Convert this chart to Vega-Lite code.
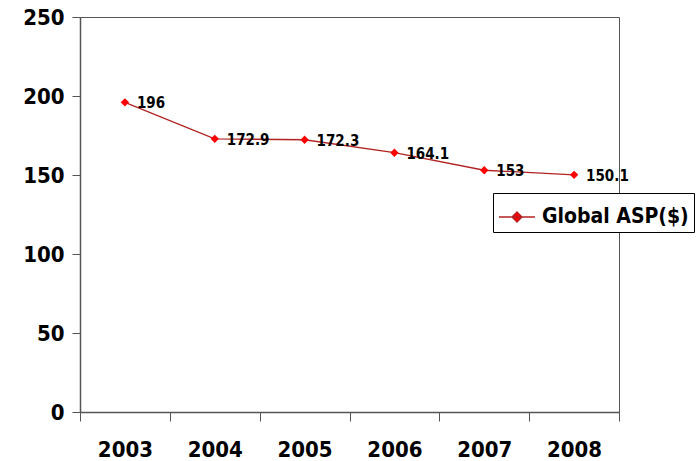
{
  "$schema": "https://vega.github.io/schema/vega-lite/v6.json",
  "width": 539,
  "height": 395,
  "autosize": {"type": "none"},
  "padding": {"left": 80, "top": 17, "right": 79, "bottom": 49},
  "background": "white",
  "config": {
    "view": {"stroke": "#555555", "strokeWidth": 1},
    "font": "DejaVu Sans Condensed",
    "axis": {"grid": false, "domainColor": "#555555", "tickColor": "#555555", "labelColor": "#000000", "labelFont": "DejaVu Sans Condensed", "labelFontWeight": "bold", "title": null}
  },
  "data": {
    "values": [
      {"year": "2003", "asp": 196, "label": "196", "series": "Global ASP($)"},
      {"year": "2004", "asp": 172.9, "label": "172.9", "series": "Global ASP($)"},
      {"year": "2005", "asp": 172.3, "label": "172.3", "series": "Global ASP($)"},
      {"year": "2006", "asp": 164.1, "label": "164.1", "series": "Global ASP($)"},
      {"year": "2007", "asp": 153, "label": "153", "series": "Global ASP($)"},
      {"year": "2008", "asp": 150.1, "label": "150.1", "series": "Global ASP($)"}
    ]
  },
  "encoding": {
    "x": {
      "field": "year", "type": "ordinal",
      "scale": {"type": "band", "paddingInner": 0, "paddingOuter": 0},
      "axis": {"labelAngle": 0, "labelFontSize": 22, "tickBand": "extent", "tickSize": 9, "labelPadding": 18, "domainWidth": 1.5}
    },
    "y": {
      "field": "asp", "type": "quantitative",
      "scale": {"domain": [0, 250], "nice": false},
      "axis": {"values": [0, 50, 100, 150, 200, 250], "labelFontSize": 22, "tickSize": 8, "labelPadding": 8, "domainWidth": 1.5}
    }
  },
  "layer": [
    {
      "mark": {"type": "line", "strokeWidth": 1.3},
      "encoding": {
        "color": {
          "field": "series", "type": "nominal",
          "scale": {"range": ["#B22222"]},
          "legend": {
            "title": null,
            "orient": "none",
            "legendX": 413,
            "legendY": 176,
            "strokeColor": "#000000",
            "fillColor": "#FFFFFF",
            "padding": 5,
            "labelFont": "DejaVu Sans Condensed",
            "labelFontWeight": "bold",
            "labelFontSize": 21,
            "labelColor": "#000000",
            "labelOffset": 6,
            "symbolType": "M-1,0H1M0,-0.28L0.28,0L0,0.28L-0.28,0Z",
            "symbolSize": 1296,
            "symbolStrokeWidth": 1.3,
            "encode": {
              "symbols": {"update": {"fill": {"value": "#FF0000"}, "stroke": {"value": "#B22222"}, "strokeWidth": {"value": 1.3}, "opacity": {"value": 1}, "size": {"value": 1296}, "shape": {"value": "M-1,0H1M0,-0.28L0.28,0L0,0.28L-0.28,0Z"}}}
            }
          }
        }
      }
    },
    {
      "mark": {"type": "point", "shape": "diamond", "filled": true, "size": 70, "opacity": 1, "color": "#FF0000"}
    },
    {
      "mark": {"type": "text", "align": "left", "baseline": "middle", "dx": 12, "dy": 1, "fontSize": 15, "fontWeight": "bold", "font": "DejaVu Sans Condensed", "color": "#000000"},
      "encoding": {"text": {"field": "label"}}
    }
  ]
}
